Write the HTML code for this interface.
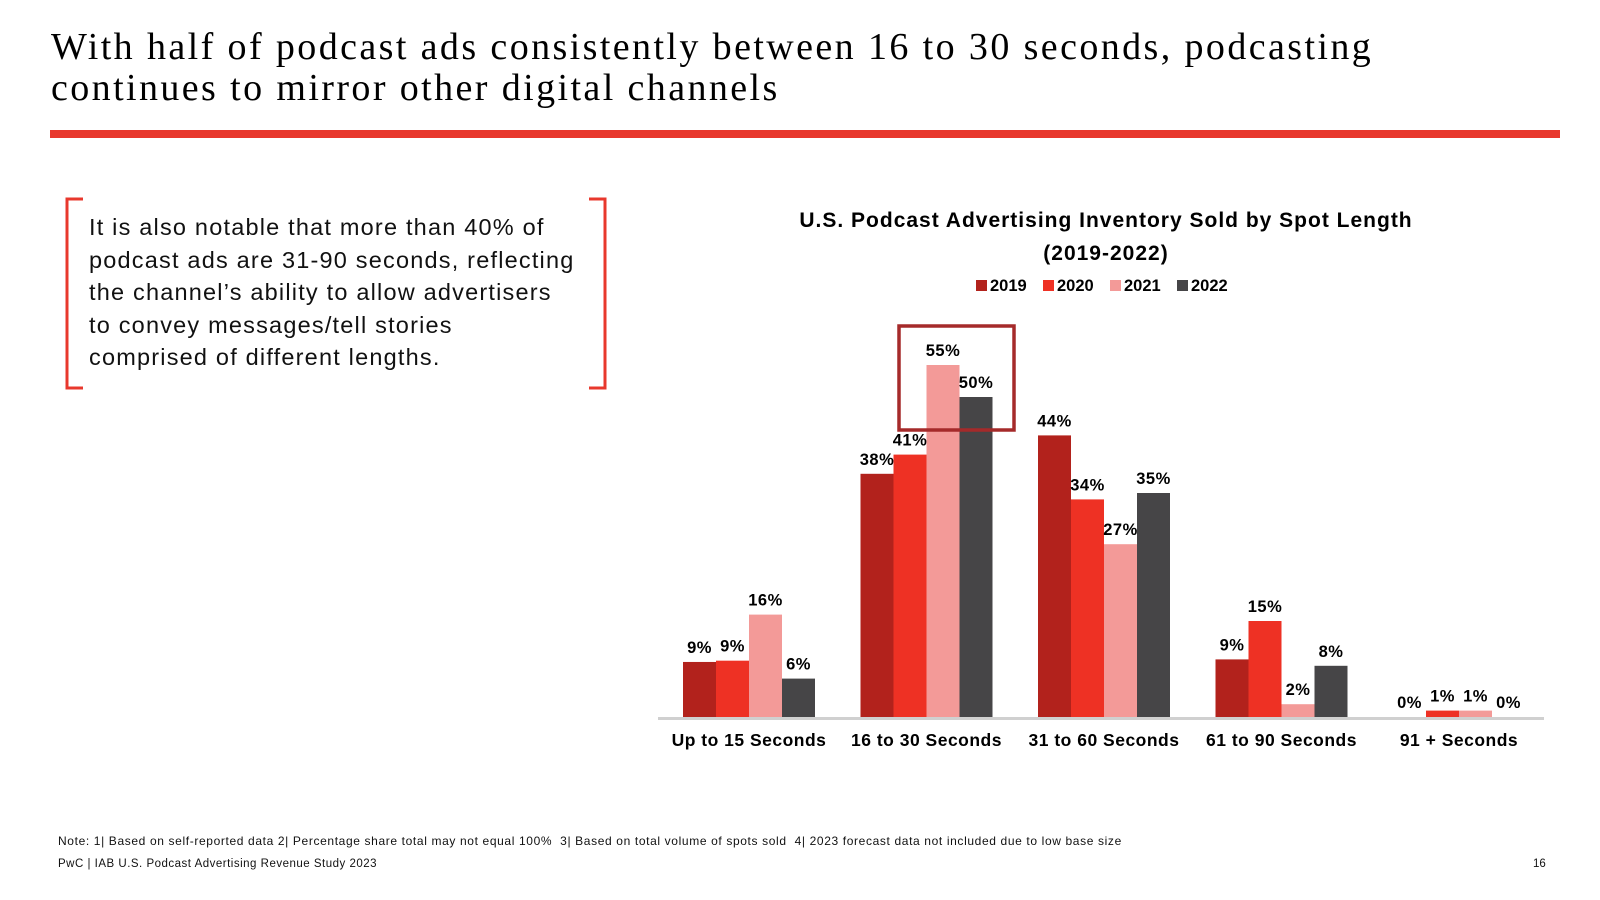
<!DOCTYPE html>
<html><head><meta charset="utf-8"><style>
body{margin:0;width:1600px;height:900px;background:#fff;position:relative;overflow:hidden;font-family:"Liberation Sans",Arial,sans-serif}
.t{position:absolute}
</style></head><body>
<div class="t" style="left:51px;top:27px;font-family:'Liberation Serif',serif;font-size:38px;line-height:41px;letter-spacing:2.4px;color:#000;white-space:nowrap">With half of podcast ads consistently between 16 to 30 seconds, podcasting<br>continues to mirror other digital channels</div>
<div class="t" style="left:50px;top:130px;width:1510px;height:8px;background:#e8382d"></div>
<svg class="t" style="left:0;top:0" width="1600" height="900">
<path d="M83,199 H67 V388 H83 M589,199 H605 V388 H589" fill="none" stroke="#e8382d" stroke-width="3"/>
</svg>
<div class="t" style="left:89px;top:211px;font-size:23.5px;line-height:32.5px;letter-spacing:1.2px;color:#111;white-space:nowrap">It is also notable that more than 40% of<br>podcast ads are 31-90 seconds, reflecting<br>the channel’s ability to allow advertisers<br>to convey messages/tell stories<br>comprised of different lengths.</div>
<svg class="t" id="chart" style="left:0;top:0" width="1600" height="900"></svg>
<div class="t" style="left:58px;top:834px;font-size:12px;letter-spacing:0.63px;color:#111;white-space:nowrap">Note: 1| Based on self-reported data 2| Percentage share total may not equal 100%&nbsp; 3| Based on total volume of spots sold&nbsp; 4| 2023 forecast data not included due to low base size</div>
<div class="t" style="left:58px;top:858px;font-size:11.5px;letter-spacing:0.5px;color:#111;white-space:nowrap">PwC | IAB U.S. Podcast Advertising Revenue Study 2023</div>
<div class="t" style="left:1533px;top:858px;font-size:11.5px;color:#111">16</div>
<script>
const categories=["Up to 15 Seconds","16 to 30 Seconds","31 to 60 Seconds","61 to 90 Seconds","91 + Seconds"];
const seriesNames=["2019","2020","2021","2022"];
const v2019=[8.6,38,44,9,0];
const v2020=[8.8,41,34,15,1];
const v2021=[16,55,27,2,1];
const v2022=[6,50,35,8,0];
const labels2019=["9%","38%","44%","9%","0%"];
const labels2020=["9%","41%","34%","15%","1%"];
const labels2021=["16%","55%","27%","2%","1%"];
const labels2022=["6%","50%","35%","8%","0%"];
const colors=["#b2221c","#ee3124","#f39a98","#464547"];
const series=[v2019,v2020,v2021,v2022];
const lbls=[labels2019,labels2020,labels2021,labels2022];
const svg=document.getElementById('chart');
const NS='http://www.w3.org/2000/svg';
const base=717,ppu=6.4,g0=683,gstep=177.5,bw=33;
const y=v=>base-v*ppu;
const x=(c,s)=>g0+c*gstep+s*bw;
function mk(t,a){const e=document.createElementNS(NS,t);for(const k in a)e.setAttribute(k,a[k]);svg.appendChild(e);return e;}
let e=mk('text',{x:1106,y:227,'text-anchor':'middle','font-size':21,'font-weight':'bold','letter-spacing':1});e.textContent='U.S. Podcast Advertising Inventory Sold by Spot Length';


e=mk('text',{x:1106,y:260,'text-anchor':'middle','font-size':21,'font-weight':'bold','letter-spacing':1});e.textContent='(2019-2022)';


let lx=976;
seriesNames.forEach((n,i)=>{
 const r=mk('rect',{x:lx+i*67,y:280,width:11,height:11,fill:colors[i]});
 
 
 const t=mk('text',{x:lx+i*67+14,y:291,'font-size':16.5,'font-weight':'bold'});t.textContent=n;
 
 
});
series.forEach((vals,s)=>vals.forEach((v,c)=>{
 const r=mk('rect',{x:x(c,s),y:y(v),width:bw,height:base-y(v),fill:colors[s]});
 
 
 const t=mk('text',{x:x(c,s)+bw/2,y:y(v)-9,'text-anchor':'middle','font-size':16.5,'font-weight':'bold','letter-spacing':0.5});t.textContent=lbls[s][c];
 
 
}));
const ax=mk('line',{x1:658,x2:1544,y1:base+1.5,y2:base+1.5,stroke:'#d0d0d0','stroke-width':3});


categories.forEach((c,i)=>{
 const t=mk('text',{x:g0+i*gstep+2*bw,y:746,'text-anchor':'middle','font-size':17.5,'font-weight':'bold','letter-spacing':0.5});t.textContent=c;
 
 
});
const hb=mk('rect',{x:899,y:326,width:115,height:104,fill:'none',stroke:'#a52a2a','stroke-width':3.5});


</script>
</body></html>
